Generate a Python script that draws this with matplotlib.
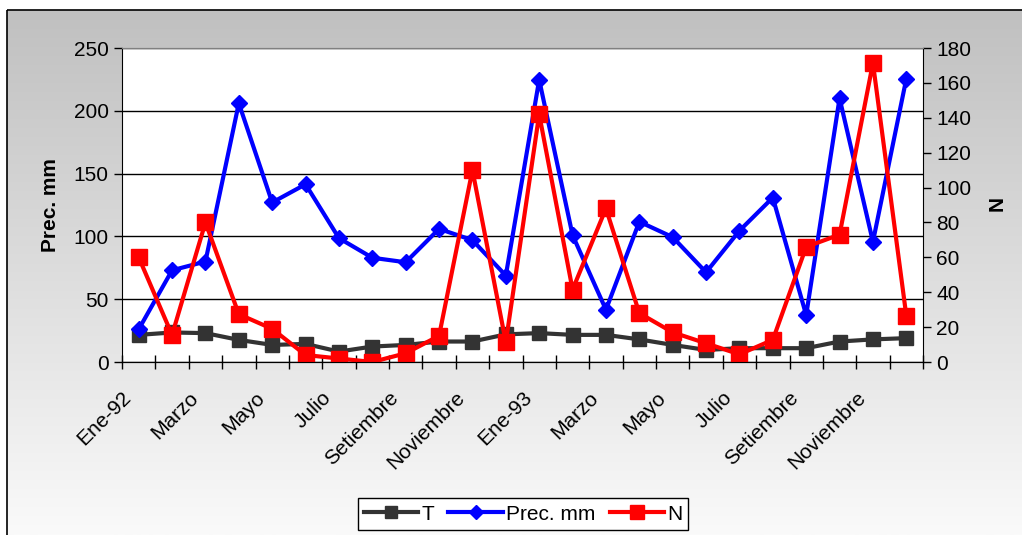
import matplotlib.pyplot as plt
import matplotlib.transforms as mtransforms
import numpy as np
from matplotlib.patches import Rectangle

plt.rcParams['font.family'] = ['Liberation Sans', 'DejaVu Sans']

meses = ['Ene-92', 'Febrero', 'Marzo', 'Abril', 'Mayo', 'Junio', 'Julio', 'Agosto',
         'Setiembre', 'Octubre', 'Noviembre', 'Diciembre',
         'Ene-93', 'Febrero', 'Marzo', 'Abril', 'Mayo', 'Junio', 'Julio', 'Agosto',
         'Setiembre', 'Octubre', 'Noviembre', 'Diciembre']
temp = [21.6, 23.5, 23, 17.6, 13.6, 14.4, 8.3, 12.3, 13.6, 16.3, 16.3, 22,
        23, 21.6, 21.6, 18, 13.6, 9.6, 11, 11, 11, 16.3, 18, 19]
prec = [26, 73, 80, 206, 127, 141.5, 98.6, 83, 79.4, 106, 97, 68.8,
        224.7, 101, 41.6, 111.7, 99.4, 71.4, 104.5, 130.9, 37.3, 210, 95.7, 225.5]
n_val = [60, 15.5, 80, 27.4, 19, 4, 2, 0, 5, 15, 110, 11.3,
         142, 41.5, 88, 28, 17, 10.7, 4.4, 12.7, 66, 73, 171.4, 26.5]

x = np.arange(len(meses))
fs = 15

fig = plt.figure(figsize=(10.22, 5.35), dpi=100)

# gray gradient chart area with a black frame
bg = fig.add_axes([0, 0, 1, 1], zorder=-10)
bg.set_xlim(0, 1022)
bg.set_ylim(535, 0)
bg.axis('off')
grad = np.linspace(192, 250, 256).reshape(-1, 1) / 255.0
bg.imshow(np.dstack([grad, grad, grad]), extent=[7, 1022, 535, 10], aspect='auto')
bg.add_patch(Rectangle((7, 10), 1030, 540, fill=False, edgecolor='black', lw=1.2))

ax = fig.add_axes([122 / 1022, 1 - 362 / 535, (923 - 122) / 1022, (362 - 48) / 535])
ax.set_facecolor('white')
ax2 = ax.twinx()

l1, = ax.plot(x, temp, color='#333333', lw=3, marker='s', ms=10, label='T')
l2, = ax.plot(x, prec, color='#0000ff', lw=3, marker='D', ms=8, label='Prec. mm')
l3, = ax2.plot(x, n_val, color='#ff0000', lw=3, marker='s', ms=11, label='N')

ax.set_xlim(-0.5, len(meses) - 0.5)
ax.set_ylim(0, 250)
ax.set_yticks(range(0, 251, 50))
ax2.set_ylim(0, 180)
ax2.set_yticks(range(0, 181, 20))
ax.grid(axis='y', color='black', lw=1)
ax.set_axisbelow(True)

# category boundaries get the tick marks, every other month gets a label
ax.set_xticks(np.arange(-0.5, len(meses), 1))
ax.set_xticklabels([])
ax.tick_params(axis='x', direction='inout', length=10, width=1)
lbl_tr = ax.get_xaxis_transform() + mtransforms.ScaledTranslation(
    -17 / 100, -26 / 100, fig.dpi_scale_trans)
for xi in x[::2]:
    ax.text(xi, 0, meses[xi], transform=lbl_tr, rotation=45, ha='right', va='top',
            rotation_mode='anchor', fontsize=fs, clip_on=False)

ax.tick_params(axis='y', labelsize=fs, length=6, width=1)
ax2.tick_params(axis='y', labelsize=fs, length=6, width=1)

ax.set_ylabel('Prec. mm', fontsize=fs, fontweight='bold', labelpad=10)
ax2.set_ylabel('N', fontsize=fs, fontweight='bold', rotation=270, labelpad=22)

for a in (ax, ax2):
    a.spines['top'].set_color('#808080')
ax2.spines['left'].set_visible(False)
ax.spines['right'].set_visible(False)

leg = fig.legend(handles=[l1, l2, l3], loc='center', ncol=3,
                 bbox_to_anchor=(523 / 1022, 1 - 514 / 535), fontsize=fs,
                 handlelength=2.6, handletextpad=0.15, columnspacing=0.7,
                 markerscale=0.9, fancybox=False, edgecolor='black',
                 framealpha=1, borderpad=0.3)
leg.get_frame().set_linewidth(1)

fig.savefig('out.png', dpi=100)
